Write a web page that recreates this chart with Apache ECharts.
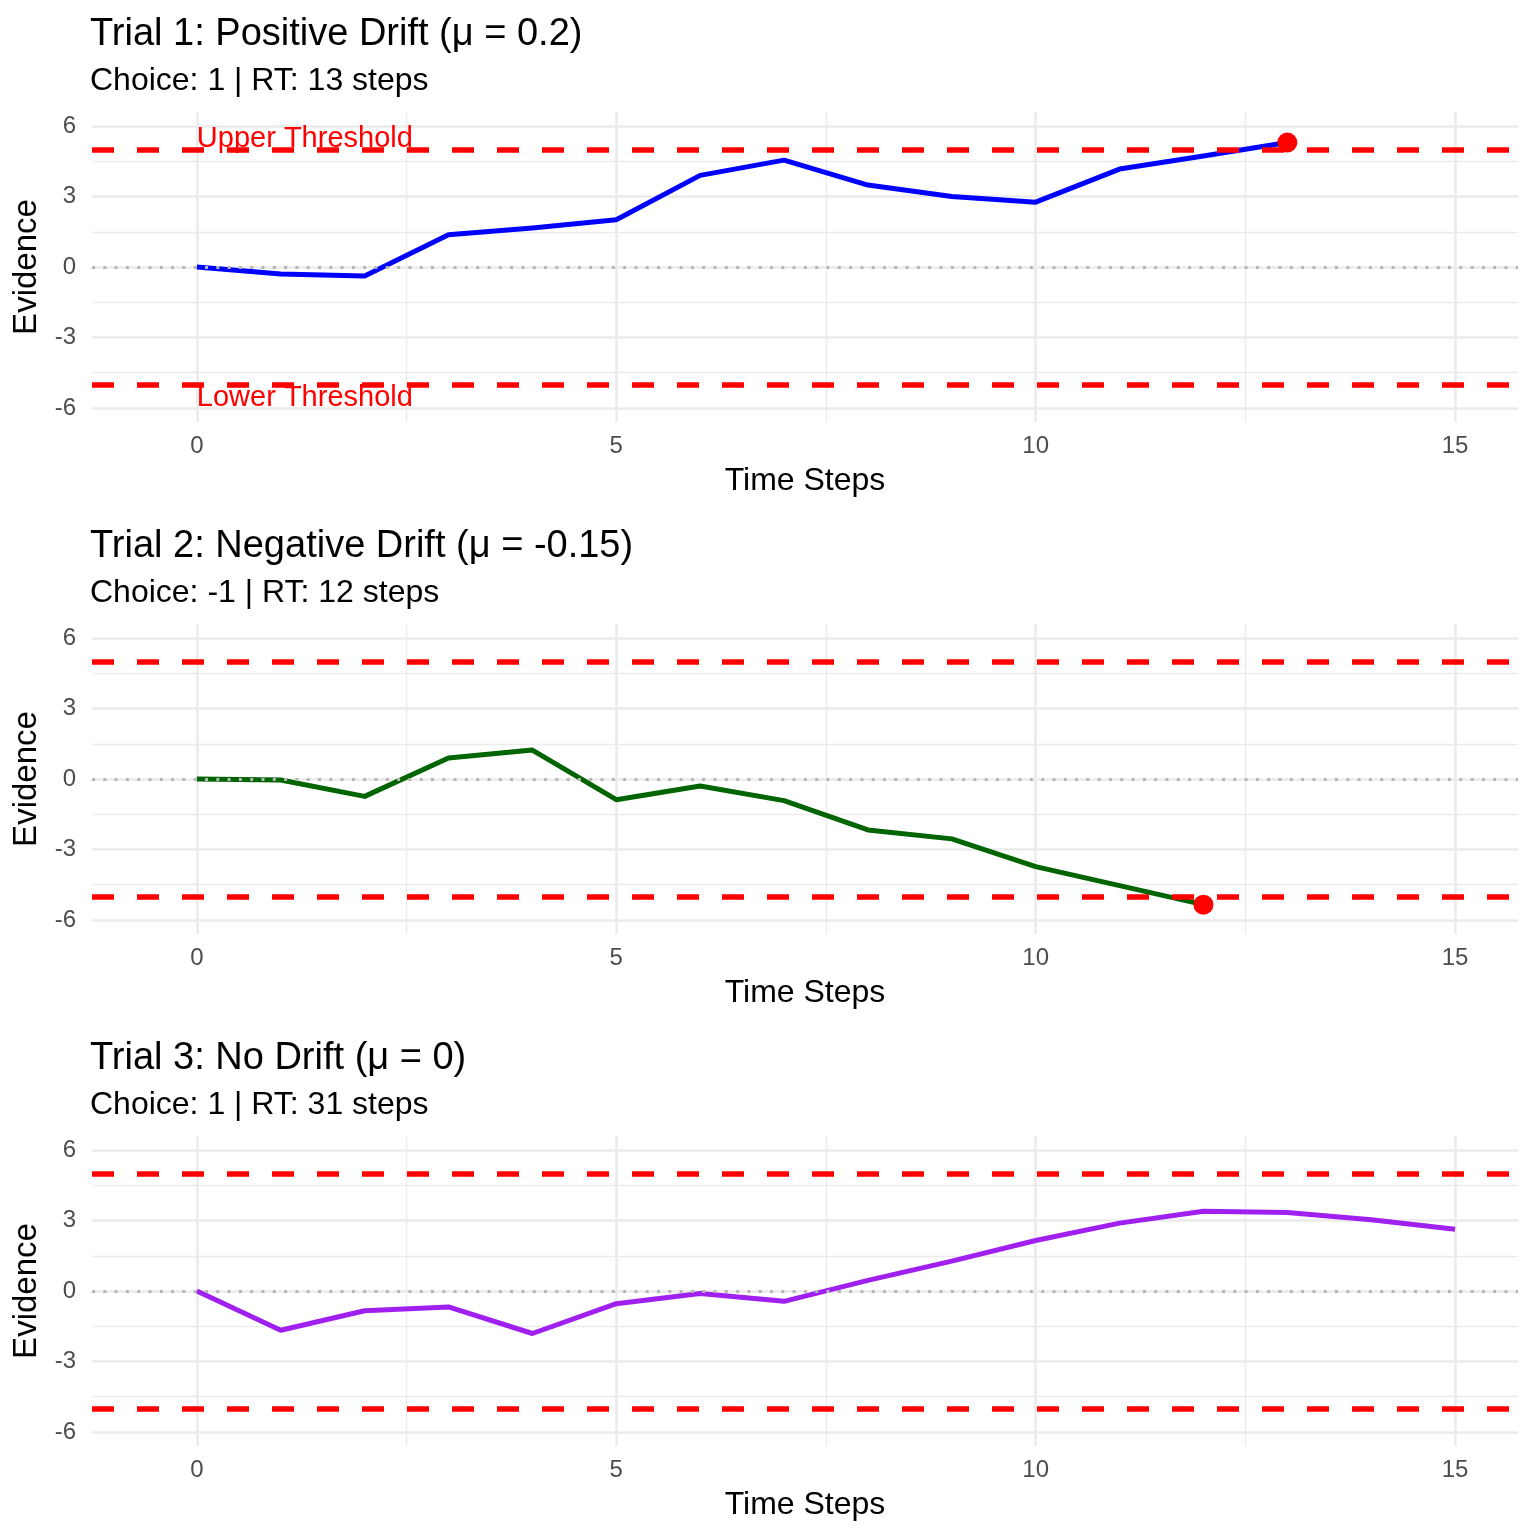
<!DOCTYPE html>
<html>
<head>
<meta charset="utf-8">
<title>Drift diffusion trials</title>
<script src="https://cdn.jsdelivr.net/npm/echarts@6/dist/echarts.min.js"></script>
<style>
    html, body {margin: 0; padding: 0; background: #fff;}
    #main {width: 1536px; height: 1536px;}
</style>
</head>
<body>
<div id="main"></div>
<script>
// values
let titles = ['Trial 1: Positive Drift (μ = 0.2)', 'Trial 2: Negative Drift (μ = -0.15)', 'Trial 3: No Drift (μ = 0)'];
let choices = [1, -1, 1];
let rtSteps = [13, 12, 31];
let evidence1 = [0, -0.3, -0.38, 1.37, 1.66, 2.01, 3.9, 4.55, 3.49, 3.0, 2.76, 4.17, 4.73, 5.3];
let evidence2 = [0, -0.04, -0.74, 0.89, 1.23, -0.88, -0.3, -0.92, -2.17, -2.55, -3.73, -4.54, -5.35];
let evidence3 = [0, -1.67, -0.84, -0.68, -1.81, -0.54, -0.11, -0.44, 0.45, 1.27, 2.15, 2.89, 3.4, 3.34, 3.03, 2.63];
let lineColors = ['#0000FF', '#006400', '#A020F0'];
let thresholds = [5, -5];
let thresholdLabels = ['Upper Threshold', 'Lower Threshold'];
let xMajor = [0, 5, 10, 15];
let xMinor = [2.5, 7.5, 12.5];
let yMajor = [-6, -3, 0, 3, 6];
let yMinor = [-4.5, -1.5, 1.5, 4.5];

let font = '"Liberation Sans", Arial, sans-serif';
let evidence = [evidence1, evidence2, evidence3];
let panelTop = [112, 624, 1136];
let panelHeight = 310;

let isStep = (v, step) => Math.abs(v / step - Math.round(v / step)) < 1e-6;

// markLine that only draws lines, stacked with its own z
let lineOnly = (data, z) => ({
    z: z,
    silent: true,
    symbol: ['none', 'none'],
    label: {show: false},
    emphasis: {disabled: true},
    animation: false,
    data: data
});

let option = {animation: false, title: [], grid: [], xAxis: [], yAxis: [], series: []};

evidence.forEach((ev, i) => {
    let top = panelTop[i];
    option.title.push({
        text: titles[i], left: 90, top: top - 96, padding: 0,
        textStyle: {fontFamily: font, fontSize: 38, fontWeight: 'normal', color: '#000'}
    });
    option.title.push({
        text: 'Choice: ' + choices[i] + ' | RT: ' + rtSteps[i] + ' steps', left: 90, top: top - 47, padding: 0,
        textStyle: {fontFamily: font, fontSize: 32, fontWeight: 'normal', color: '#000'}
    });
    option.grid.push({left: 92, right: 18, top: top, height: panelHeight});
    option.xAxis.push({
        gridIndex: i, type: 'value', min: -1.25, max: 15.75, interval: 0.25,
        splitLine: {show: false}, axisLine: {show: false}, axisTick: {show: false},
        axisLabel: {
            formatter: v => isStep(v, 5) ? String(Math.round(v)) : '',
            fontFamily: font, fontSize: 24, color: '#4D4D4D', margin: 12
        },
        name: 'Time Steps', nameLocation: 'middle', nameGap: 43,
        nameTextStyle: {fontFamily: font, fontSize: 32, color: '#000'}
    });
    option.yAxis.push({
        gridIndex: i, type: 'value', min: -6.6, max: 6.6, interval: 0.3,
        splitLine: {show: false}, axisLine: {show: false}, axisTick: {show: false},
        axisLabel: {
            formatter: v => isStep(v, 3) ? String(Math.round(v)) : '',
            fontFamily: font, fontSize: 24, color: '#4D4D4D', margin: 16
        },
        name: 'Evidence', nameLocation: 'middle', nameGap: 47,
        nameTextStyle: {fontFamily: font, fontSize: 33, color: '#000'}
    });

    // panel grid, major and minor
    let major = {color: '#EBEBEB', width: 2.6, type: 'solid'};
    let minor = {color: '#EBEBEB', width: 1.3, type: 'solid'};
    option.series.push({
        type: 'line', xAxisIndex: i, yAxisIndex: i, data: [], z: 1, silent: true,
        markLine: lineOnly([
            ...xMinor.map(v => ({xAxis: v, lineStyle: minor})),
            ...yMinor.map(v => ({yAxis: v, lineStyle: minor})),
            ...xMajor.map(v => ({xAxis: v, lineStyle: major})),
            ...yMajor.map(v => ({yAxis: v, lineStyle: major}))
        ], 1)
    });

    // evidence path
    option.series.push({
        type: 'line', xAxisIndex: i, yAxisIndex: i, z: 2, silent: true,
        data: ev.map((v, k) => [k, v]),
        showSymbol: false, symbol: 'none',
        lineStyle: {color: lineColors[i], width: 5, join: 'round'}
    });

    // decision thresholds
    option.series.push({
        type: 'line', xAxisIndex: i, yAxisIndex: i, data: [], z: 3, silent: true,
        markLine: lineOnly(thresholds.map(v => ({
            yAxis: v, lineStyle: {color: '#FF0000', width: 5.5, type: [22, 23]}
        })), 3)
    });

    // zero reference
    option.series.push({
        type: 'line', xAxisIndex: i, yAxisIndex: i, data: [], z: 4, silent: true,
        markLine: lineOnly([{yAxis: 0, lineStyle: {color: '#B5B5B5', width: 3, type: [3, 8.3]}}], 4)
    });

    // decision point, only when the trial ends inside the shown steps
    if (rtSteps[i] < ev.length) {
        option.series.push({
            type: 'scatter', xAxisIndex: i, yAxisIndex: i, z: 5, silent: true,
            data: [[rtSteps[i], ev[rtSteps[i]]]],
            symbolSize: 20, itemStyle: {color: '#FF0000', opacity: 1}
        });
    }

    if (i === 0) {
        option.series.push({
            type: 'scatter', xAxisIndex: i, yAxisIndex: i, z: 6, silent: true,
            data: thresholds.map((v, k) => [0, v + Math.sign(v) * 0.5, thresholdLabels[k]]),
            symbolSize: 0,
            label: {
                show: true, position: 'right', distance: 0, offset: [0, 1.5],
                formatter: p => p.value[2],
                fontFamily: font, fontSize: 29, color: '#FF0000', opacity: 1
            }
        });
    }
});

let chart = echarts.init(document.getElementById('main'), null, {renderer: 'canvas'});
chart.setOption(option);
</script>
</body>
</html>
